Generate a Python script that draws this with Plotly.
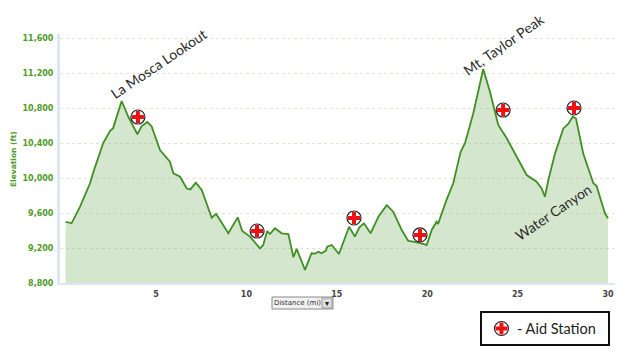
import plotly.graph_objects as go

distance_mi = [0.0,0.33,0.8,1.35,1.57,2.08,2.46,2.63,3.1,3.47,3.97,4.2,4.52,4.76,5.22,5.77,5.96,6.33,6.7,6.9,7.2,7.53,8.08,8.32,8.54,9.0,9.52,9.77,10.2,10.75,10.93,11.15,11.3,11.58,11.95,12.32,12.6,12.78,13.24,13.6,13.8,13.98,14.16,14.4,14.47,14.72,15.12,15.68,16.0,16.25,16.5,16.87,17.3,17.76,18.12,18.59,18.95,19.23,19.78,19.97,20.25,20.52,20.6,21.07,21.44,21.85,22.09,22.55,23.1,23.47,23.93,24.4,24.95,25.5,26.05,26.33,26.51,26.7,27.07,27.53,27.8,28.05,28.23,28.63,29.19,29.37,29.83,30.0]
elevation_ft = [9500,9482,9672,9940,10090,10400,10540,10570,10880,10700,10500,10590,10640,10590,10320,10186,10054,10015,9880,9870,9947,9863,9546,9590,9520,9368,9550,9394,9330,9196,9234,9394,9360,9425,9368,9360,9094,9190,8950,9140,9135,9158,9140,9170,9215,9234,9131,9443,9330,9436,9482,9368,9558,9690,9615,9406,9280,9272,9246,9234,9406,9500,9474,9750,9940,10300,10397,10740,11246,10986,10606,10454,10243,10034,9958,9880,9786,9977,10280,10567,10617,10700,10680,10280,9940,9908,9597,9540]
aid_mi = [4.0,10.59,15.95,19.6,24.2,28.12]
aid_ft = [10697,9394,9543,9349,10777,10800]
key_x = [0.16]
key_y = [0.5]
y_ticks = [8800,9200,9600,10000,10400,10800,11200,11600]
x_ticks = [5,10,15,20,25,30]
place_labels = ["La Mosca Lookout","Mt, Taylor Peak","Water Canyon"]

W, H = 625, 352
L, R, T, B = 60, 615, 34, 283
GREEN = "#4f9a2a"
LINE = "#3f8f24"

def px(x): return x / W
def py(y): return (H - y) / H

fig = go.Figure()
fig.add_trace(go.Scatter(x=distance_mi, y=elevation_ft, mode="lines", fill="tozeroy",
                         fillcolor="rgba(112,176,92,0.30)", line=dict(color=LINE, width=1.8),
                         hoverinfo="skip", showlegend=False))
for xs, ys, xa, ya in ((aid_mi, aid_ft, "x", "y"), (key_x, key_y, "x2", "y2")):
    fig.add_trace(go.Scatter(x=xs, y=ys, xaxis=xa, yaxis=ya, mode="markers", cliponaxis=False, showlegend=False,
                             marker=dict(symbol="circle", size=14, color="white",
                                         line=dict(color="#222222", width=1.2))))
    fig.add_trace(go.Scatter(x=xs, y=ys, xaxis=xa, yaxis=ya, mode="markers", cliponaxis=False, showlegend=False,
                             marker=dict(symbol="cross", size=10, color="#ee1111",
                                         line=dict(width=0))))

text_font = dict(family="Lato, sans-serif", size=14, color="#2b2b2b")
anns = [
    dict(x=px(159), y=py(64), text=place_labels[0], textangle=-34),
    dict(x=px(503.5), y=py(44), text=place_labels[1], textangle=-35),
    dict(x=px(552.5), y=py(212), text=place_labels[2], textangle=-34),
]
for a in anns:
    fig.add_annotation(xref="paper", yref="paper", showarrow=False, font=text_font,
                       xanchor="center", yanchor="middle", **a)

def note(x, y, text, font, angle=0, xanchor="center"):
    fig.add_annotation(xref="paper", yref="paper", x=px(x), y=py(y), showarrow=False, textangle=angle,
                       xanchor=xanchor, yanchor="middle", text=text, font=font)

note(13, 159, "Elevation (ft)", dict(family="DejaVu Sans", size=7.5, color=GREEN, weight="bold"), angle=-90)
note(297, 303, "Distance (mi)", dict(family="DejaVu Sans", size=7, color="#333333"))
note(327, 303, "▾", dict(family="DejaVu Sans", size=8, color="#222222"))
note(515, 328, "- Aid Station", dict(family="Lato, sans-serif", size=14.5, color="#222222"), xanchor="left")

shapes = [
    dict(type="rect", xref="paper", yref="paper", x0=px(272), x1=px(333), y0=py(297), y1=py(309),
         line=dict(color="#8a8a8a", width=1), fillcolor="#f1f1f1", layer="below"),
    dict(type="rect", xref="paper", yref="paper", x0=px(322), x1=px(332), y0=py(298), y1=py(308),
         line=dict(color="#999999", width=1), fillcolor="#dddddd", layer="below"),
    dict(type="rect", xref="paper", yref="paper", x0=px(481), x1=px(609), y0=py(312), y1=py(345),
         line=dict(color="#111111", width=2), fillcolor="white", layer="below"),
]

fig.update_layout(
    width=W, height=H, autosize=False,
    margin=dict(l=0, r=0, t=0, b=0, pad=0, autoexpand=False),
    paper_bgcolor="white", plot_bgcolor="rgba(0,0,0,0)", shapes=shapes,
    xaxis=dict(domain=[L / W, R / W], range=[(L - 65.6) / 18.08, (R - 65.6) / 18.08], tickvals=x_ticks,
               showgrid=False, zeroline=False, showline=True, linecolor="#dde7f3", linewidth=2,
               ticks="", ticklabelstandoff=2,
               tickfont=dict(family="DejaVu Sans", size=8, color="#444444", weight="bold")),
    yaxis=dict(domain=[(H - B) / H, (H - T) / H], range=[8800, 8800 + (B - T) * 400 / 35], tickvals=y_ticks,
               tickformat=",d", gridcolor="#e4e2d6", griddash="dot", gridwidth=1, zeroline=False,
               showline=True, linecolor="#dde7f3", linewidth=3, ticks="", ticklabelstandoff=2,
               tickfont=dict(family="DejaVu Sans", size=8, color=GREEN, weight="bold")),
    xaxis2=dict(domain=[481 / W, 609 / W], range=[0, 1], visible=False, anchor="y2"),
    yaxis2=dict(domain=[(H - 345) / H, (H - 312) / H], range=[0, 1], visible=False, anchor="x2"),
)
fig.write_html("out.html", config=dict(displayModeBar=False),
               post_script="document.body.style.margin='0';document.body.style.overflow='hidden';")
